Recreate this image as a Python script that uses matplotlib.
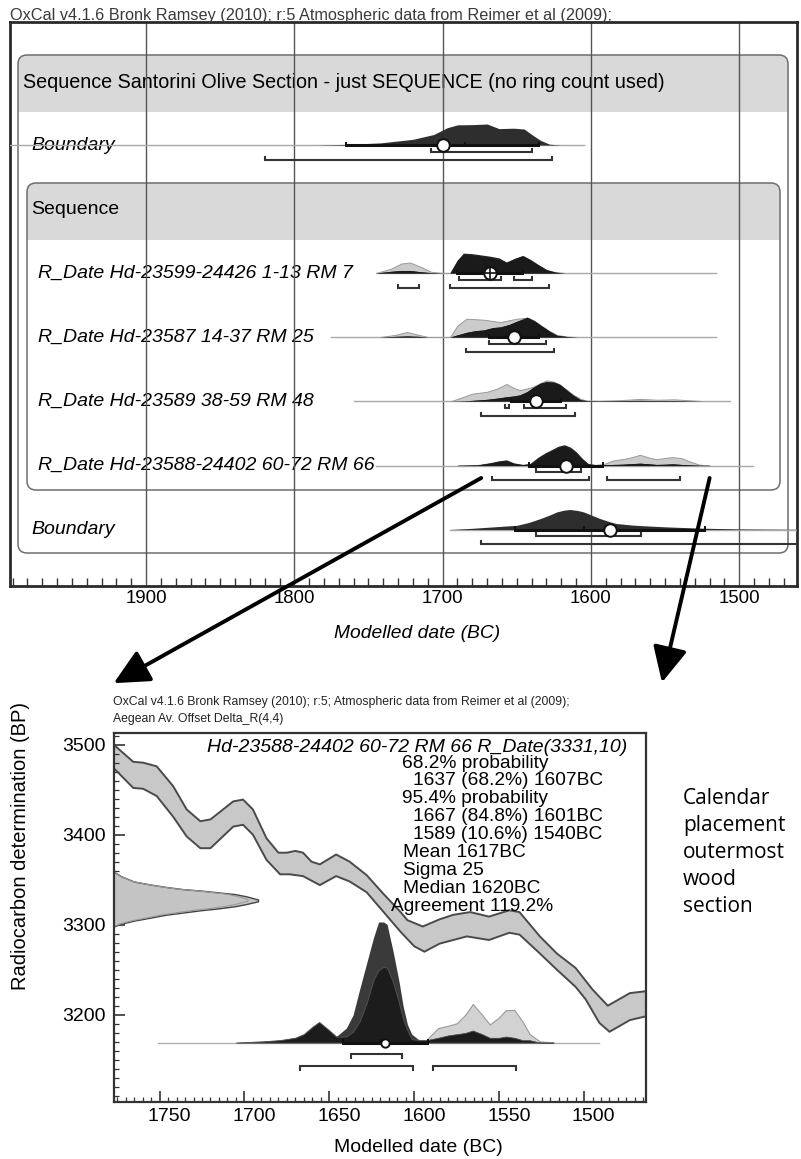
import numpy as np
import matplotlib
matplotlib.use('Agg')
import matplotlib.pyplot as plt
from matplotlib import font_manager
from matplotlib.patches import FancyBboxPatch, Rectangle, ConnectionPatch
from matplotlib.ticker import MultipleLocator, FixedLocator

# ---------------- top panel: modelled sequence ----------------
top_ticks = [1900, 1800, 1700, 1600, 1500]
seq_title = 'Sequence Santorini Olive Section - just SEQUENCE (no ring count used)'
row_labels = ['Boundary',
              'R_Date Hd-23599-24426 1-13 RM 7',
              'R_Date Hd-23587 14-37 RM 25',
              'R_Date Hd-23589 38-59 RM 48',
              'R_Date Hd-23588-24402 60-72 RM 66',
              'Boundary']

# densities in % of row peak
b1_yr = [1785, 1765, 1742, 1720, 1706, 1697, 1690, 1680, 1670, 1662, 1652, 1645, 1640, 1634, 1628, 1621]
b1_post = [0, 3, 10, 27, 50, 82, 96, 97, 100, 78, 80, 76, 50, 22, 4, 0]

r1_yr = [1745, 1735, 1728, 1722, 1715, 1708, 1700, 1695, 1690, 1686, 1680, 1674, 1668, 1662,
         1657, 1651, 1646, 1641, 1636, 1630, 1624, 1618]
r1_lik = [0, 20, 45, 50, 30, 6, 0, 0, 60, 88, 85, 80, 74, 62, 50, 70, 80, 62, 40, 15, 4, 0]
r1_post = [0, 8, 12, 12, 6, 2, 0, 0, 62, 95, 92, 86, 80, 72, 52, 70, 84, 65, 42, 16, 4, 0]

r2_yr = [1742, 1732, 1724, 1716, 1710, 1700, 1695, 1690, 1684, 1678, 1672, 1666, 1661, 1655,
         1650, 1643, 1638, 1634, 1628, 1623, 1616, 1610]
r2_lik = [0, 10, 24, 10, 0, 0, 0, 55, 87, 85, 82, 76, 71, 80, 87, 92, 75, 56, 28, 10, 2, 0]
r2_post = [0, 3, 5, 3, 0, 0, 0, 10, 22, 30, 34, 45, 48, 60, 75, 95, 78, 57, 28, 8, 2, 0]

r3_yr = [1694, 1686, 1680, 1670, 1663, 1657, 1652, 1648, 1643, 1639, 1634, 1630, 1625, 1621,
         1616, 1612, 1607, 1603, 1595, 1580, 1567, 1555, 1544, 1535, 1526]
r3_lik = [0, 20, 35, 44, 60, 81, 62, 52, 60, 68, 86, 98, 92, 78, 52, 30, 10, 2, 1, 4, 10, 6, 8, 4, 0]
r3_post = [0, 1, 3, 8, 14, 20, 24, 29, 45, 65, 85, 92, 90, 80, 50, 28, 6, 2, 1, 2, 3, 2, 2, 1, 0]

r4_yr = [1690, 1676, 1668, 1662, 1657, 1652, 1646, 1641, 1636, 1631, 1627, 1622, 1618, 1614,
         1610, 1606, 1602, 1597, 1591, 1585, 1579, 1572, 1567, 1561, 1556, 1550, 1545, 1539,
         1533, 1527, 1520]
r4_lik = [0, 3, 12, 20, 22, 10, 3, 6, 30, 52, 66, 84, 92, 80, 58, 28, 6, 3, 8, 24, 30, 40, 51,
          38, 30, 36, 40, 35, 18, 4, 0]
r4_post = [0, 3, 12, 22, 27, 12, 5, 10, 38, 60, 74, 92, 99, 88, 66, 35, 10, 4, 4, 5, 6, 9, 11,
           8, 5, 6, 8, 5, 3, 1, 0]

b2_yr = [1695, 1680, 1666, 1650, 1642, 1634, 1628, 1623, 1618, 1614, 1609, 1605, 1599, 1594,
         1588, 1583, 1572, 1560, 1549, 1538, 1527, 1515, 1500, 1481, 1461]
b2_post = [0, 6, 13, 21, 35, 55, 72, 88, 97, 100, 95, 88, 70, 55, 40, 30, 22, 17, 13, 10, 7, 5, 3, 2, 1]

row_mean = [1700, 1668, 1652, 1637, 1617, 1587]
row_sigma = [65, 22, 17, 17, 25, 64]
row_median = [1685, 1668, 1651, 1636, 1620, 1605]
row_r68 = [[(1708, 1640)], [(1689, 1661), (1652, 1640)], [(1669, 1630)],
           [(1658, 1655), (1645, 1617)], [(1637, 1607)], [(1637, 1566)]]
row_r95 = [[(1820, 1626)], [(1730, 1716), (1695, 1628)], [(1684, 1625)],
           [(1674, 1611)], [(1667, 1601), (1589, 1540)], [(1674, 1380)]]
row_span = [(1992, 1605), (1744, 1516), (1775, 1516), (1760, 1506), (1745, 1491), (1695, 1461)]

# ---------------- bottom panel: calibration of the last date ----------------
cal_hi_yr = [1777, 1765.5, 1759.6, 1751.7, 1742, 1734, 1726, 1720, 1706.6, 1700.8, 1695, 1687,
             1680, 1675, 1670, 1665.5, 1660.5, 1655.6, 1646, 1638, 1628, 1618, 1608, 1604, 1595,
             1585, 1577, 1567, 1556, 1544, 1538, 1526, 1516, 1505, 1495, 1486, 1473, 1464]
cal_hi_bp = [3500, 3481, 3480, 3476, 3454, 3428, 3415, 3417, 3437, 3439, 3428, 3396,
             3380, 3380, 3382, 3380, 3370, 3367, 3378, 3370, 3355, 3334, 3314, 3305, 3298,
             3306, 3311, 3314, 3309, 3316, 3314, 3287, 3268, 3252, 3228, 3210, 3224, 3226]
cal_lo_yr = [1777, 1765.5, 1759.6, 1751.7, 1742, 1734, 1726, 1720, 1706.6, 1700.8, 1695, 1687,
             1679, 1673.5, 1665.5, 1655.6, 1646, 1638, 1628, 1618, 1608, 1600, 1594, 1585, 1569,
             1556, 1544, 1538, 1526, 1516, 1505, 1499, 1491, 1485, 1473, 1464]
cal_lo_bp = [3474, 3452, 3451, 3443, 3420, 3398, 3385, 3385, 3409, 3411, 3400, 3372,
             3356, 3356, 3354, 3344, 3354, 3348, 3336, 3314, 3292, 3276, 3270, 3279, 3287,
             3283, 3291, 3289, 3268, 3250, 3231, 3217, 3191, 3181, 3194, 3198]

# measured radiocarbon date on the y axis (% of peak)
c14_bp = [3359, 3354, 3348, 3344.5, 3342, 3339.5, 3338, 3336, 3334, 3331.5, 3328, 3326, 3323,
          3320.5, 3318, 3316, 3313.5, 3311, 3308, 3304.5, 3301, 3298]
c14_dens = [0, 5, 14, 26, 36, 48, 60, 72, 84, 92, 100, 100, 92, 84, 72, 60, 48, 36, 26, 14, 5, 0]

cd_yr = [1705, 1689, 1679, 1670, 1665, 1660, 1656, 1650, 1646, 1640, 1636, 1632, 1628, 1624,
         1621, 1618, 1616, 1612.5, 1609, 1606.5, 1604, 1601.5, 1597, 1593, 1586, 1580, 1575,
         1570, 1565.5, 1560, 1555.5, 1550, 1546, 1541, 1536, 1532, 1526, 1518]
cd_post = [0, 1, 2, 4, 7, 13, 17, 10, 5, 12, 23, 45, 66, 87, 100, 100, 98, 76, 51, 30, 15, 7,
           2, 2, 4, 6, 7, 8, 10, 7, 4, 4, 5, 4, 2, 2, 0, 0]
cd_lik = [0, 1, 2, 4, 7, 13, 17, 10, 5, 5, 9, 18, 33, 52, 60, 63, 62, 50, 33, 19, 10, 3,
          2, 2, 12, 14, 16, 23, 32, 23, 15, 21, 27, 27, 17, 7, 1, 0]
cd_span = (1751, 1491)

bot_xticks = [1750, 1700, 1650, 1600, 1550, 1500]
bot_yticks = [3200, 3300, 3400, 3500]

stat_title = 'Hd-23588-24402 60-72 RM 66 R_Date(3331,10)'
p68_ranges = [(1637, 1607)]
p68_probs = [68.2]
p95_ranges = [(1667, 1601), (1589, 1540)]
p95_probs = [84.8, 10.6]
mean_bc, sigma_bc, median_bc, agreement = 1617, 25, 1620, 119.2

# ---------------- layout (pixels, from top) ----------------
W, H = 801, 1159
ROW_Y = [145, 273, 337, 401, 465.5, 529.5]
ROW_PX = [21, 21, 21, 21, 21, 20]       # px for 100 %
CD_BASE, CD_SCALE = 3169, 1.34          # bottom dist: BP baseline, BP per %
C14_SCALE = 0.85                        # yr per %


def font_ok(name):
    try:
        font_manager.findfont(font_manager.FontProperties(family=name), fallback_to_default=False)
        return True
    except Exception:
        return False


NARROW = 'Liberation Sans Narrow' if font_ok('Liberation Sans Narrow') else 'Liberation Sans'
NK = 1.0 if NARROW == 'Liberation Sans Narrow' else 0.84
plt.rcParams['font.family'] = ['Liberation Sans', 'DejaVu Sans']

fig = plt.figure(figsize=(W / 100, H / 100), dpi=100)

# background axes in pixel units for the group boxes and labels
bg = fig.add_axes([0, 0, 1, 1], zorder=0)
bg.set_xlim(0, W)
bg.set_ylim(H, 0)
bg.axis('off')


def group_box(x0, y0, x1, y1, head):
    box = FancyBboxPatch((x0, y0), x1 - x0, y1 - y0, boxstyle='round,pad=0,rounding_size=9',
                         fc='white', ec='none', zorder=1)
    bg.add_patch(box)
    band = Rectangle((x0, y0), x1 - x0, head - y0, fc='#d9d9d9', ec='none', zorder=2)
    band.set_clip_path(box)
    bg.add_patch(band)
    bg.add_patch(FancyBboxPatch((x0, y0), x1 - x0, y1 - y0, boxstyle='round,pad=0,rounding_size=9',
                                fc='none', ec='#6e6e6e', lw=1.1, zorder=3))


group_box(18, 55, 788, 553, 112)
group_box(27, 183, 780, 490, 240)
bg.text(23, 83, seq_title, fontsize=14.2, va='center', ha='left', zorder=4)
bg.text(31, 210, 'Sequence', fontsize=14, va='center', ha='left', zorder=4)
for i, lab in enumerate(row_labels):
    x = 31 if lab == 'Boundary' else 38
    bg.text(x, ROW_Y[i], lab, fontsize=14, style='italic', va='center', ha='left', zorder=4)

# ---------------- top axes ----------------
ax = fig.add_axes([10 / W, (H - 586) / H, 787 / W, 564 / H], zorder=1)
ax.patch.set_visible(False)
ax.set_xlim(1991.7, 1461.1)
ax.set_ylim(586, 22)
ax.set_yticks([])
ax.set_xticks(top_ticks)
ax.set_xticklabels([str(t) for t in top_ticks], fontsize=16 * NK, family=NARROW)
ax.xaxis.set_minor_locator(MultipleLocator(10))
ax.tick_params(which='major', length=0, pad=3)
ax.tick_params(which='minor', direction='in', length=6, width=1, color='#333')
for s in ax.spines.values():
    s.set_linewidth(2)
    s.set_color('#2a2a2a')
ax.vlines(top_ticks, 22, 586, color='#555555', lw=1.0, zorder=2)


def draw_summary(a, base, mean, sig, med, r68, r95, off68, off95, ms, cross=False, tick=3.5):
    a.plot([mean + sig, mean - sig], [base, base], color='#111111', lw=2.2, zorder=5,
           solid_capstyle='butt')
    a.vlines([mean + sig, mean - sig, med], base - tick, base + tick * 0.7, color='#111111',
             lw=1.4, zorder=5)
    hook = abs(off95 - off68) * 0.35
    for ranges, off in ((r68, off68), (r95, off95)):
        for lo, hi in ranges:
            a.plot([lo, lo, hi, hi], [base + off - hook, base + off, base + off, base + off - hook],
                   color='#333333', lw=1.5, zorder=5, solid_joinstyle='miter')
    a.plot(mean, base, 'o', ms=ms, mfc='white', mec='#111111', mew=1.4, zorder=6)
    if cross:
        a.plot(mean, base, '+', ms=ms * 0.9, mec='#111111', mew=1.2, zorder=7)


rows = [(b1_yr, None, b1_post), (r1_yr, r1_lik, r1_post), (r2_yr, r2_lik, r2_post),
        (r3_yr, r3_lik, r3_post), (r4_yr, r4_lik, r4_post), (b2_yr, None, b2_post)]
for i, (yr, lik, post) in enumerate(rows):
    base = ROW_Y[i]
    k = ROW_PX[i] / 100.0
    yr = np.asarray(yr, float)
    post = np.asarray(post, float)
    ax.plot(row_span[i], [base, base], color='#a8a8a8', lw=1.0, zorder=3)
    if lik is None:
        ax.fill_between(yr, base, base - post * k, color='#2e2e2e', lw=0, zorder=3.2)
    else:
        lik = np.asarray(lik, float)
        ax.fill_between(yr, base, base - lik * k, fc='#cbcbcb', ec='#9a9a9a', lw=0.7, zorder=3.1)
        ax.fill_between(yr, base, base - post * k, color='#262626', lw=0, zorder=3.2)
        ax.fill_between(yr, base, base - np.minimum(lik, post) * k, color='#1a1a1a', lw=0, zorder=3.3)
    draw_summary(ax, base, row_mean[i], row_sigma[i], row_median[i], row_r68[i], row_r95[i],
                 6.5, 14.5, 9, cross=(i == 1))

# ---------------- bottom axes ----------------
ax2 = fig.add_axes([113.7 / W, (H - 1102) / H, 532.3 / W, 369 / H], zorder=1)
ax2.set_xlim(1777, 1463.5)
ax2.set_ylim(3103, 3513)
for s in ax2.spines.values():
    s.set_linewidth(1.6)
    s.set_color('#333333')
ax2.fill(np.r_[cal_hi_yr, cal_lo_yr[::-1]], np.r_[cal_hi_bp, cal_lo_bp[::-1]],
         fc='#c8c8c8', ec='none', zorder=1)
ax2.plot(cal_hi_yr, cal_hi_bp, color='#4a4a4a', lw=1.4, zorder=2)
ax2.plot(cal_lo_yr, cal_lo_bp, color='#4a4a4a', lw=1.4, zorder=2)

c14_w = np.asarray(c14_dens, float) * C14_SCALE
ax2.fill_betweenx(c14_bp, 1777, 1777 - c14_w, fc='#c4c4c4', ec='#444444', lw=1.0, zorder=2)
ax2.plot(1777 - c14_w * 0.93, c14_bp, color='#9a9a9a', lw=0.8, zorder=2)

cd_post_a = np.asarray(cd_post, float)
cd_lik_a = np.asarray(cd_lik, float)
ax2.plot(cd_span, [CD_BASE, CD_BASE], color='#b0b0b0', lw=1.0, zorder=2)
ax2.fill_between(cd_yr, CD_BASE, CD_BASE + cd_lik_a * CD_SCALE, fc='#d2d2d2', ec='#9a9a9a',
                 lw=0.8, zorder=3)
ax2.fill_between(cd_yr, CD_BASE, CD_BASE + cd_post_a * CD_SCALE, color='#3a3a3a', lw=0, zorder=3.1)
ax2.fill_between(cd_yr, CD_BASE, CD_BASE + np.minimum(cd_lik_a, cd_post_a) * CD_SCALE,
                 fc='#1c1c1c', ec='#555555', lw=0.6, zorder=3.2)
draw_summary(ax2, CD_BASE, mean_bc, sigma_bc, median_bc, p68_ranges, p95_ranges,
             -12.9, -25.9, 6, tick=-3.5)

ax2.xaxis.set_major_locator(FixedLocator(bot_xticks))
ax2.xaxis.set_minor_locator(MultipleLocator(5))
ax2.yaxis.set_major_locator(FixedLocator(bot_yticks))
ax2.yaxis.set_minor_locator(MultipleLocator(10))
ax2.tick_params(which='both', direction='in', color='#333333')
ax2.tick_params(which='major', length=8, width=1.2, labelsize=14)
ax2.tick_params(which='minor', length=3.5, width=0.9)
ax2.tick_params(axis='y', pad=6)
ax2.set_xticklabels([])
for t in bot_xticks:
    ax2.annotate(str(t), (t, 0), xycoords=('data', 'axes fraction'), xytext=(7, -4),
                 textcoords='offset points', ha='center', va='top', fontsize=14)

# ---------------- figure texts ----------------
def px(x, y):
    return x / W, 1 - y / H


fig.text(*px(10, 20), 'OxCal v4.1.6 Bronk Ramsey (2010); r:5 Atmospheric data from Reimer et al (2009);',
         fontsize=11.7, color='#3a3a3a', va='baseline', ha='left')
fig.text(*px(417, 634), 'Modelled date (BC)', fontsize=16.5 * NK, family=NARROW, style='italic',
         va='center', ha='center')
fig.text(*px(113, 702), 'OxCal v4.1.6 Bronk Ramsey (2010); r:5; Atmospheric data from Reimer et al (2009);',
         fontsize=10.5 * NK, family=NARROW, color='#222222', va='center', ha='left')
fig.text(*px(113, 719), 'Aegean Av. Offset Delta_R(4,4)',
         fontsize=10.5 * NK, family=NARROW, color='#222222', va='center', ha='left')
fig.text(*px(21, 846), 'Radiocarbon determination (BP)', fontsize=14.5, rotation=90,
         va='center', ha='center')
fig.text(*px(418, 1147), 'Modelled date (BC)', fontsize=14, va='center', ha='center')
fig.text(*px(627, 747), stat_title, fontsize=14, style='italic', va='center', ha='right')

stat_lines = [('%.1f%% probability' % 68.2, 402)]
stat_lines += [('%d (%.1f%%) %dBC' % (a, p, b), 413) for (a, b), p in zip(p68_ranges, p68_probs)]
stat_lines += [('%.1f%% probability' % 95.4, 402)]
stat_lines += [('%d (%.1f%%) %dBC' % (a, p, b), 413) for (a, b), p in zip(p95_ranges, p95_probs)]
stat_lines += [('Mean %dBC' % mean_bc, 403), ('Sigma %d' % sigma_bc, 403),
               ('Median %dBC' % median_bc, 403), ('Agreement %.1f%%' % agreement, 391)]
for j, (s, x) in enumerate(stat_lines):
    fig.text(*px(x, 763 + 17.9 * j), s, fontsize=13.8, va='center', ha='left')

side = ['Calendar', 'placement', 'outermost', 'wood', 'section']
for j, s in enumerate(side):
    fig.text(*px(683, 798 + 27.1 * j), s, fontsize=15, family=['Open Sans', 'DejaVu Sans'],
             va='center', ha='left')

# ---------------- arrows from the last date to the detail plot ----------------
for xa, xb, yb in ((1674, 0.0, 1.135), (1520, 1.03, 1.137)):
    con = ConnectionPatch(xyA=(xa, 478), coordsA=ax.transData, xyB=(xb, yb), coordsB=ax2.transAxes,
                          arrowstyle='-|>,head_length=0.45,head_width=0.22', mutation_scale=48,
                          lw=2.8, color='black', zorder=10)
    fig.add_artist(con)

fig.savefig('out.png', dpi=100)
